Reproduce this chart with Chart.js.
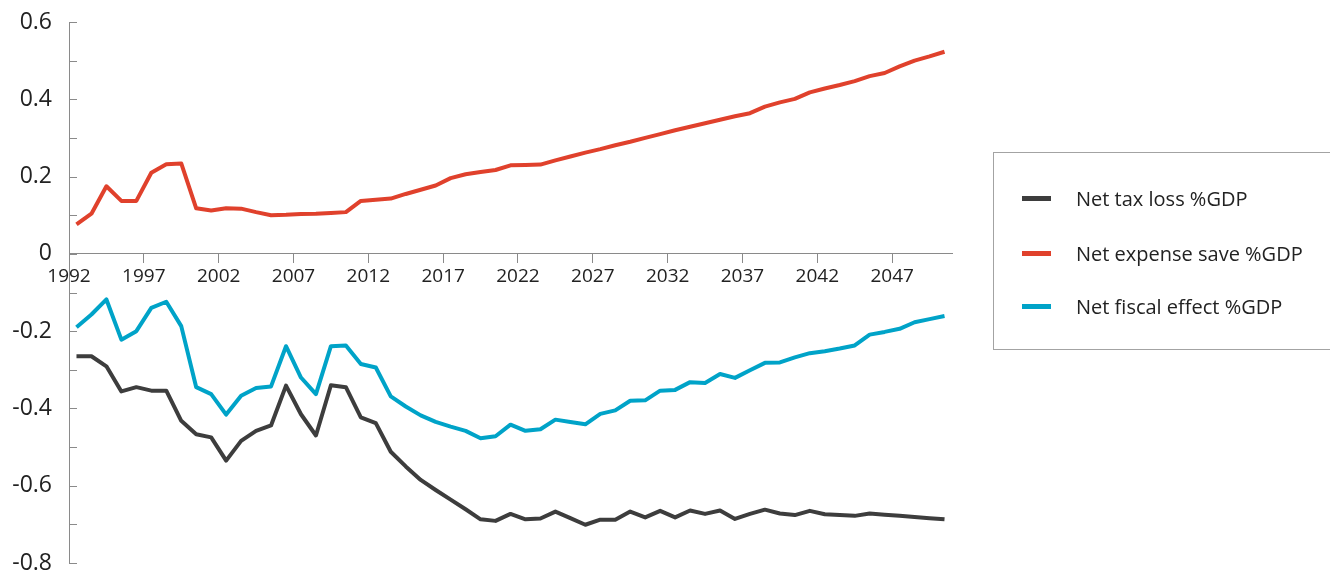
<!DOCTYPE html>
<html>
<head>
<meta charset="utf-8">
<script src="https://cdn.jsdelivr.net/npm/chart.js@4"></script>
<style>
  body { margin: 0; background: #fff; font-family: "Open Sans", sans-serif; }
  #wrap { position: relative; width: 1330px; height: 570px; overflow: hidden; }
  #legend { position: absolute; left: 993px; top: 152px; width: 360px; height: 198px;
            border: 1px solid #a3a3a3; box-sizing: border-box; }
  .item { position: absolute; left: 28px; display: flex; align-items: center; }
  .swatch { width: 29px; height: 5px; margin-right: 25px; }
  .label { font-size: 20px; color: #222; white-space: nowrap; }
</style>
</head>
<body>
<div id="wrap">
  <canvas id="chart" width="1330" height="570"></canvas>
  <div id="legend"></div>
</div>
<script>
// years 1992..2050, one point per year
const years = Array.from({length: 59}, (_, i) => 1992 + i);
const xTickYears = [1992, 1997, 2002, 2007, 2012, 2017, 2022, 2027, 2032, 2037, 2042, 2047];

const taxLoss = [
  -0.265, -0.265, -0.291, -0.356, -0.345, -0.354, -0.354, -0.432, -0.467, -0.475,
  -0.535, -0.484, -0.458, -0.444, -0.341, -0.415, -0.470, -0.340, -0.345, -0.423,
  -0.438, -0.512, -0.550, -0.585, -0.611, -0.636, -0.661, -0.687, -0.691, -0.673,
  -0.687, -0.685, -0.667, -0.684, -0.701, -0.688, -0.688, -0.667, -0.682, -0.665,
  -0.682, -0.664, -0.673, -0.664, -0.686, -0.673, -0.662, -0.672, -0.676, -0.665,
  -0.674, -0.676, -0.678, -0.672, -0.675, -0.678, -0.681, -0.684, -0.687
];
const expenseSave = [
  0.076, 0.104, 0.175, 0.137, 0.137, 0.210, 0.232, 0.234, 0.118, 0.112,
  0.118, 0.117, 0.108, 0.100, 0.101, 0.103, 0.104, 0.106, 0.108, 0.137,
  0.140, 0.143, 0.155, 0.166, 0.177, 0.196, 0.206, 0.212, 0.217, 0.229,
  0.230, 0.231, 0.242, 0.252, 0.262, 0.271, 0.281, 0.290, 0.300, 0.310,
  0.320, 0.329, 0.338, 0.347, 0.356, 0.364, 0.381, 0.392, 0.401, 0.418,
  0.428, 0.437, 0.447, 0.460, 0.468, 0.485, 0.500, 0.511, 0.523
];
const fiscalEffect = [
  -0.190, -0.157, -0.118, -0.222, -0.200, -0.140, -0.124, -0.187, -0.345, -0.363,
  -0.416, -0.367, -0.347, -0.343, -0.239, -0.320, -0.363, -0.239, -0.237, -0.285,
  -0.294, -0.369, -0.395, -0.418, -0.435, -0.447, -0.458, -0.477, -0.472, -0.442,
  -0.458, -0.454, -0.429, -0.435, -0.441, -0.414, -0.405, -0.380, -0.379, -0.354,
  -0.352, -0.332, -0.334, -0.311, -0.321, -0.301, -0.282, -0.281, -0.268, -0.257,
  -0.252, -0.245, -0.237, -0.209, -0.202, -0.194, -0.177, -0.169, -0.161
];

const seriesNames = ['Net tax loss %GDP', 'Net expense save %GDP', 'Net fiscal effect %GDP'];
const seriesColors = ['#3d3d3d', '#e0412c', '#00a3c8'];

// each year sits in the middle of its band
const toPoints = arr => arr.map((v, i) => ({x: years[i] + 0.5, y: v}));

const axisGrey = '#8a8a8a';
const textColor = '#222';

// short tick marks pointing into the plot on the y axis
const innerTicks = {
  id: 'innerTicks',
  afterDraw(chart) {
    const y = chart.scales.y;
    const ctx = chart.ctx;
    ctx.save();
    ctx.strokeStyle = axisGrey;
    ctx.lineWidth = 1;
    y.ticks.forEach(t => {
      const py = Math.round(y.getPixelForValue(t.value)) + 0.5;
      ctx.beginPath();
      ctx.moveTo(y.right, py);
      ctx.lineTo(y.right + 8, py);
      ctx.stroke();
    });
    ctx.restore();
  }
};

const chart = new Chart(document.getElementById('chart'), {
  type: 'line',
  data: {
    datasets: [taxLoss, expenseSave, fiscalEffect].map((arr, k) => ({
      label: seriesNames[k],
      data: toPoints(arr),
      borderColor: seriesColors[k],
      backgroundColor: seriesColors[k],
      borderWidth: 4,
      pointRadius: 0,
      tension: 0,
      borderJoinStyle: 'round'
    }))
  },
  options: {
    responsive: false,
    animation: false,
    layout: { padding: { top: 22, right: 378, bottom: 7, left: 0 } },
    plugins: { legend: { display: false }, tooltip: { enabled: false } },
    scales: {
      x: {
        type: 'linear',
        position: { y: 0 },
        min: 1992,
        max: 2051,
        afterBuildTicks: s => { s.ticks = xTickYears.map(v => ({value: v})); },
        afterFit: s => { s.height = 0; },
        grid: { display: true, drawOnChartArea: false, drawTicks: true, tickLength: 9, color: axisGrey },
        border: { display: true, color: axisGrey, width: 1 },
        ticks: {
          autoSkip: false, maxRotation: 0, padding: 2,
          color: textColor,
          font: { family: 'Open Sans', size: 19 },
          callback: v => String(v)
        }
      },
      y: {
        min: -0.8,
        max: 0.6,
        afterFit: s => { s.width = 69; s.paddingTop = 0; s.paddingBottom = 0; },
        grid: { display: false, drawTicks: false },
        border: { display: true, color: axisGrey, width: 1 },
        ticks: {
          stepSize: 0.1, autoSkip: false, padding: 17,
          color: textColor,
          font: { family: 'Open Sans', size: 23 },
          callback: v => {
            const n = Math.round(v * 10);
            if (n % 2 !== 0) return '';
            return n === 0 ? '0' : (n / 10).toFixed(1);
          }
        }
      }
    }
  },
  plugins: [innerTicks]
});

// legend box built from the datasets
const legendEl = document.getElementById('legend');
const itemTops = [45, 100, 153];
chart.data.datasets.forEach((ds, k) => {
  const row = document.createElement('div');
  row.className = 'item';
  row.style.top = (itemTops[k] - 14) + 'px';
  row.style.height = '28px';
  row.innerHTML = `<span class="swatch" style="background:${ds.borderColor}"></span><span class="label">${ds.label}</span>`;
  legendEl.appendChild(row);
});
</script>
</body>
</html>
